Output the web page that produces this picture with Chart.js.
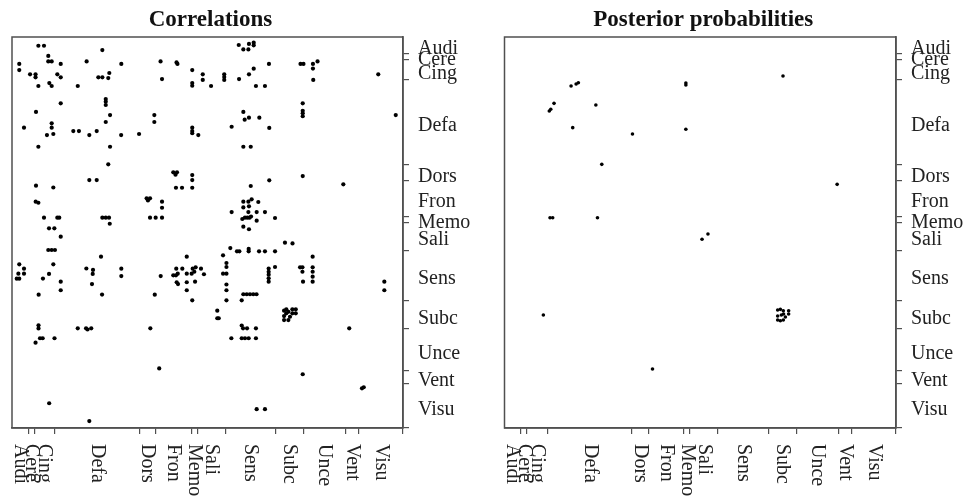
<!DOCTYPE html>
<html lang="en">
<head>
<meta charset="UTF-8" />
<title>Correlations and posterior probabilities</title>
<script src="https://cdn.jsdelivr.net/npm/chart.js"></script>
<style>
  body { margin: 0; background: #fff; }
  canvas { position: absolute; top: 0; }
</style>
</head>
<body>
<canvas id="corrChart" width="484" height="498" style="left:0"></canvas>
<canvas id="postChart" width="485" height="498" style="left:484px"></canvas>

<script>
// module names and how many nodes each one holds (node index runs 0..264)
const modules = ["Audi", "Cere", "Cing", "Defa", "Dors", "Fron", "Memo", "Sali", "Sens", "Subc", "Unce", "Vent", "Visu"];
const moduleSizes = [11, 4, 14, 57, 11, 24, 4, 19, 34, 19, 28, 9, 30];

// left panel: node pairs with strong correlation (column node, row node)
const corrX = [
  17.8, 21.6, 61.0, 153.1, 156.2, 159.6, 160.0, 163.2, 163.2, 24.5,
  4.9, 24.5, 26.8, 32.9, 50.4, 73.8, 100.3, 111.1, 111.7, 173.5,
  194.8, 196.8, 203.2, 203.2, 206.3, 4.9, 12.2, 15.9, 15.9, 30.6,
  32.9, 17.8, 25.2, 26.8, 44.4, 58.3, 61.0, 65.7, 65.0, 101.3,
  121.7, 121.7, 121.7, 128.8, 128.8, 134.4, 143.3, 143.3, 143.3, 153.3,
  160.0, 163.2, 164.7, 170.8, 203.4, 247.3, 32.9, 63.3, 63.3, 63.3,
  16.2, 66.2, 96.1, 96.1, 156.2, 157.1, 160.0, 167.0, 196.3, 196.3,
  196.3, 196.3, 259.1, 63.3, 8.1, 26.8, 26.8, 23.6, 27.9, 41.4,
  45.2, 52.2, 57.2, 73.7, 85.8, 121.7, 121.7, 121.7, 125.8, 148.3,
  173.7, 66.2, 17.8, 156.2, 161.2, 65.0, 52.2, 57.2, 16.2, 27.9,
  108.9, 110.4, 111.4, 121.7, 121.7, 121.7, 110.7, 114.8, 161.2, 173.7,
  196.3, 223.7, 16.0, 17.8, 90.9, 93.2, 91.8, 101.3, 101.3, 21.6,
  30.6, 31.9, 25.0, 28.6, 32.9, 61.0, 63.3, 65.5, 66.0, 93.2,
  97.0, 101.3, 156.2, 159.6, 161.8, 166.3, 156.2, 160.0, 148.3, 159.6,
  165.2, 170.8, 155.5, 157.3, 158.9, 160.4, 161.4, 165.2, 177.6, 156.2,
  160.0, 184.3, 189.4, 24.5, 26.8, 29.0, 147.4, 151.9, 153.5, 159.8,
  159.8, 166.8, 170.8, 177.6, 142.5, 118.0, 60.1, 203.0, 4.9, 8.1,
  4.3, 8.1, 3.2, 4.9, 27.9, 20.9, 25.0, 32.9, 32.9, 18.0,
  50.2, 54.7, 54.5, 54.0, 60.8, 73.8, 73.8, 96.4, 100.4, 110.9,
  115.0, 108.9, 110.7, 111.9, 118.0, 121.3, 123.1, 124.0, 127.6, 129.6,
  122.0, 111.2, 112.1, 118.0, 123.6, 118.0, 121.7, 144.8, 144.8, 142.5,
  144.8, 144.8, 144.8, 144.8, 138.6, 138.6, 139.6, 173.3, 173.3, 173.3,
  173.3, 173.3, 177.6, 194.5, 196.1, 196.1, 196.5, 203.0, 203.0, 203.0,
  203.0, 156.2, 158.5, 160.7, 162.9, 165.1, 155.1, 155.1, 156.0, 158.7,
  164.7, 148.1, 155.1, 157.3, 159.8, 164.7, 251.4, 251.4, 17.9, 17.9,
  18.9, 20.7, 15.9, 28.7, 44.4, 50.0, 51.0, 53.5, 93.4, 99.4,
  227.7, 196.3, 236.3, 237.5, 25.1, 52.2, 165.2, 170.8,
  183.7, 185.2, 186.6, 189.3, 191.6, 185.2, 189.3, 191.6, 183.7, 183.7, 186.6, 187.7
];
const corrY = [
  5.9, 5.9, 8.8, 5.4, 8.4, 8.4, 4.7, 3.8, 5.6, 12.8,
  18.2, 16.5, 16.5, 18.2, 16.5, 18.2, 16.5, 17.2, 18.2, 18.2,
  18.2, 18.2, 18.2, 21.3, 16.5, 22.3, 25.2, 25.2, 27.2, 25.2,
  27.2, 33.1, 31.1, 33.1, 33.1, 27.2, 27.2, 24.3, 27.7, 28.4,
  22.3, 31.1, 32.9, 25.2, 29.0, 33.1, 25.2, 27.0, 29.0, 28.4,
  25.2, 21.4, 33.1, 33.1, 29.0, 25.2, 44.8, 41.9, 43.7, 45.9,
  50.6, 52.7, 52.7, 57.4, 50.6, 55.8, 54.5, 54.5, 44.8, 49.8,
  51.5, 53.5, 52.7, 57.4, 61.2, 58.3, 61.2, 66.2, 65.5, 63.5,
  63.5, 66.2, 63.5, 66.2, 65.5, 61.2, 63.5, 65.0, 66.2, 60.6,
  61.4, 74.1, 74.1, 74.1, 74.1, 86.0, 96.6, 96.6, 100.4, 101.6,
  91.4, 93.0, 91.4, 93.2, 96.6, 101.8, 101.8, 101.8, 100.6, 96.8,
  93.9, 99.5, 111.2, 111.9, 108.9, 108.9, 110.4, 111.2, 115.3, 122.0,
  122.0, 122.0, 129.2, 129.2, 134.8, 122.0, 122.0, 122.0, 126.1, 122.0,
  122.0, 122.0, 111.2, 111.2, 109.6, 111.4, 115.1, 114.3, 118.2, 118.2,
  118.2, 118.2, 122.9, 122.0, 122.0, 122.0, 121.2, 124.0, 122.2, 128.1,
  129.8, 138.9, 139.4, 143.8, 143.8, 143.8, 142.5, 144.7, 144.7, 143.1,
  144.7, 144.7, 144.7, 144.7, 147.4, 148.3, 148.3, 148.3, 153.5, 156.4,
  159.8, 159.8, 163.2, 163.2, 153.5, 163.1, 160.0, 165.2, 171.0, 174.0,
  156.3, 157.3, 160.0, 166.8, 173.9, 156.4, 161.4, 174.0, 161.4, 156.4,
  156.4, 160.9, 160.9, 159.8, 159.8, 159.8, 158.5, 155.5, 156.4, 160.2,
  156.4, 165.6, 166.8, 165.6, 165.2, 171.0, 177.8, 152.6, 155.3, 159.8,
  159.8, 167.1, 171.0, 177.8, 184.8, 189.9, 189.9, 156.3, 158.5, 160.5,
  162.9, 165.2, 155.3, 155.5, 155.5, 158.5, 165.2, 155.5, 158.5, 161.8,
  165.2, 173.7, 173.7, 173.7, 173.7, 173.7, 177.8, 194.8, 196.7, 196.7,
  196.7, 203.4, 203.4, 203.4, 203.4, 203.4, 165.2, 171.0, 194.7, 196.8,
  203.4, 203.4, 206.4, 203.4, 196.7, 196.7, 197.5, 196.7, 196.7, 223.8,
  196.7, 227.7, 237.2, 236.5, 247.3, 259.3, 251.3, 251.3,
  184.8, 183.9, 185.5, 183.9, 183.9, 186.6, 186.6, 186.6, 188.4, 191.1, 191.1, 188.9
];

// right panel: node pairs with high posterior probability
const postX = [
  187.8, 44.9, 48.3, 49.8, 122.3, 122.3, 33.4, 31.2, 30.2, 61.6,
  46.0, 86.3, 122.3, 65.6, 224.3, 30.7, 32.5, 62.7, 137.2, 133.2,
  26.2, 99.8,
  184.2, 186.0, 188.0, 186.7, 188.2, 184.2, 186.0, 188.0, 191.6, 191.6, 189.4, 184.2
];
const postY = [
  26.3, 33.1, 31.7, 30.9, 31.1, 32.4, 44.8, 48.8, 50.0, 45.9,
  61.2, 65.5, 62.3, 86.0, 99.5, 122.0, 122.0, 122.0, 133.0, 136.6,
  187.7, 224.2,
  184.3, 183.9, 184.8, 187.7, 187.0, 191.1, 191.6, 191.1, 184.8, 187.0, 189.1, 188.4
];

// module boundaries (tick marks) and module centres (labels)
const bounds = [];
let acc = 0;
moduleSizes.forEach((s) => { acc += s; bounds.push(acc); });
const mids = bounds.map((b, i) => b - moduleSizes[i] / 2);
const nNodes = acc;

const INK = "#505050";

// frame around the plot + module labels between the tick marks
const moduleLabels = {
  id: "moduleLabels",
  afterDraw(chart) {
    const { ctx, chartArea: a, scales } = chart;
    ctx.save();
    ctx.strokeStyle = INK;
    ctx.lineWidth = 1.5;
    ctx.strokeRect(a.left, a.top, a.right - a.left, a.bottom - a.top);

    ctx.fillStyle = "#222";
    ctx.font = '20px "Liberation Serif"';
    ctx.textAlign = "left";
    ctx.textBaseline = "alphabetic";
    modules.forEach((m, i) => {
      ctx.fillText(m, a.right + 15, scales.y.getPixelForValue(mids[i]) + 9);
    });

    ctx.textBaseline = "middle";
    modules.forEach((m, i) => {
      ctx.save();
      ctx.translate(scales.x.getPixelForValue(mids[i]), a.bottom + 16);
      ctx.rotate(Math.PI / 2);
      ctx.fillText(m, 0, 0);
      ctx.restore();
    });
    ctx.restore();
  },
};

function boundaryAxis(extra) {
  return Object.assign({
    type: "linear",
    min: 0,
    max: nNodes,
    afterBuildTicks: (axis) => { axis.ticks = bounds.map((v) => ({ value: v })); },
    ticks: { display: false },
    grid: { drawOnChartArea: false, drawTicks: true, tickLength: 6, color: INK, lineWidth: 1.2 },
    border: { display: true, color: INK, width: 1.5 },
  }, extra);
}

function makeChart(id, title, xs, ys, radius, padLeft, padRight) {
  return new Chart(document.getElementById(id), {
    type: "scatter",
    data: {
      datasets: [{
        data: xs.map((v, i) => ({ x: v, y: ys[i] })),
        pointRadius: radius,
        pointHoverRadius: radius,
        pointBackgroundColor: "#000",
        pointBorderWidth: 0,
      }],
    },
    options: {
      responsive: false,
      animation: false,
      layout: { padding: { left: padLeft, right: padRight, top: 0, bottom: 64 } },
      plugins: {
        legend: { display: false },
        tooltip: { enabled: false },
        title: {
          display: true,
          text: title,
          color: "#111",
          font: { family: "Liberation Serif", size: 23, weight: "bold" },
          padding: { top: 6, bottom: 3.4 },
        },
      },
      scales: {
        x: boundaryAxis({ position: "bottom" }),
        y: boundaryAxis({ position: "right", reverse: true }),
      },
    },
    plugins: [moduleLabels],
  });
}

makeChart("corrChart", "Correlations", corrX, corrY, 2.1, 12, 75);
makeChart("postChart", "Posterior probabilities", postX, postY, 1.8, 20.5, 67);
</script>
</body>
</html>
